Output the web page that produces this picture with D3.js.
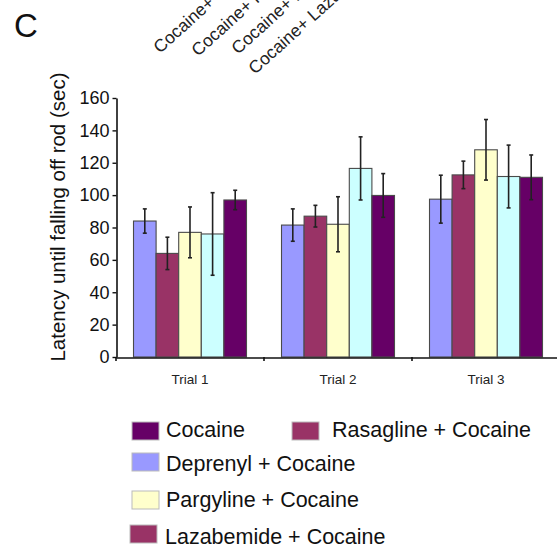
<!DOCTYPE html>
<html>
<head>
<meta charset="utf-8">
<script src="https://cdn.jsdelivr.net/npm/d3@7"></script>
<style>
  html, body { margin: 0; padding: 0; background: #fff; }
  svg { display: block; font-family: "Liberation Sans", Arial, sans-serif; }
</style>
</head>
<body>
<svg id="chart" width="557" height="550"></svg>
<script>
// Rotarod latency per trial, mean and SEM for each treatment group
const trials = ["Trial 1", "Trial 2", "Trial 3"];
const seriesNames = ["Deprenyl + Cocaine", "Rasagline + Cocaine", "Pargyline + Cocaine", "Lazabemide + Cocaine", "Cocaine"];
const seriesColors = ["#9999ff", "#993366", "#ffffcc", "#ccffff", "#660066"];

const deprenyl   = [84, 81.5, 97.5];
const rasagline  = [64, 87, 112.5];
const pargyline  = [77, 82, 128];
const lazabemide = [76, 116.5, 111.5];
const cocaine    = [97, 99.8, 111];

const deprenylErr   = [7.5, 10, 14.8];
const rasaglineErr  = [10, 6.7, 8.5];
const pargylineErr  = [15.7, 17, 18.7];
const lazabemideErr = [25.5, 19.5, 19.4];
const cocaineErr    = [6, 13.5, 13.8];

const yTicks = [0, 20, 40, 60, 80, 100, 120, 140, 160];

const topLabels = ["Cocaine+ Deprenyl", "Cocaine+ Rasagline", "Cocaine+ Pargyline", "Cocaine+ Lazabemide"];

const legendNames  = ["Cocaine", "Rasagline + Cocaine", "Deprenyl + Cocaine", "Pargyline + Cocaine", "Lazabemide + Cocaine"];
const legendColors = ["#660066", "#993366", "#9999ff", "#ffffcc", "#993366"];

const values = [deprenyl, rasagline, pargyline, lazabemide, cocaine];
const errors = [deprenylErr, rasaglineErr, pargylineErr, lazabemideErr, cocaineErr];

const rows = [];
trials.forEach((t, ti) => {
  seriesNames.forEach((s, si) => {
    rows.push({ trial: t, series: s, color: seriesColors[si], value: values[si][ti], err: errors[si][ti] });
  });
});

const svg = d3.select("#chart");

const x0 = d3.scaleBand().domain(trials).range([116, 560]).paddingInner(0).paddingOuter(0);
const x1 = d3.scaleBand().domain(seriesNames).range([17.5, x0.bandwidth() - 17.5]).padding(0);
const y = d3.scaleLinear().domain([0, 160]).range([357, 98]);

// panel letter
svg.append("text").attr("x", 14).attr("y", 37).attr("font-size", 33).attr("fill", "#111").text("C");

// rotated column captions along the top (they run past the top edge)
const capPos = [[160, 54], [198, 57], [238, 55], [255, 75]];
svg.append("g").selectAll("text").data(topLabels).join("text")
  .attr("transform", (d, i) => `translate(${capPos[i][0]},${capPos[i][1]}) rotate(-42)`)
  .attr("font-size", 17.5).attr("fill", "#222")
  .text(d => d);

// bars
svg.append("g").selectAll("rect").data(rows).join("rect")
  .attr("x", d => x0(d.trial) + x1(d.series))
  .attr("y", d => y(d.value))
  .attr("width", x1.bandwidth())
  .attr("height", d => y(0) - y(d.value))
  .attr("fill", d => d.color)
  .attr("stroke", "#4a4a4a")
  .attr("stroke-width", 1.1);

// error bars
const eb = svg.append("g").attr("stroke", "#222").attr("stroke-width", 1.6);
rows.forEach(d => {
  const cx = x0(d.trial) + x1(d.series) + x1.bandwidth() / 2;
  eb.append("line").attr("x1", cx).attr("x2", cx).attr("y1", y(d.value + d.err)).attr("y2", y(d.value - d.err));
  eb.append("line").attr("x1", cx - 2).attr("x2", cx + 2).attr("y1", y(d.value + d.err)).attr("y2", y(d.value + d.err));
  eb.append("line").attr("x1", cx - 2).attr("x2", cx + 2).attr("y1", y(d.value - d.err)).attr("y2", y(d.value - d.err));
});

// y axis
const yAxis = svg.append("g").attr("transform", "translate(116.5,0)")
  .call(d3.axisLeft(y).tickValues(yTicks).tickSize(4).tickSizeOuter(0).tickPadding(3));
yAxis.select(".domain").attr("stroke", "#111").attr("stroke-width", 1.6);
yAxis.selectAll(".tick line").attr("stroke", "#111").attr("stroke-width", 1.4);
yAxis.selectAll(".tick text").attr("font-size", 18).attr("fill", "#111").attr("font-family", "Liberation Sans, Arial, sans-serif");

// x axis with boundary ticks between trials
const xAxis = svg.append("g").attr("transform", "translate(0,357.5)")
  .call(d3.axisBottom(x0).tickSize(0).tickPadding(17));
xAxis.select(".domain").attr("stroke", "#111").attr("stroke-width", 1.6);
xAxis.selectAll(".tick text").attr("font-size", 13.5).attr("fill", "#222").attr("font-family", "Liberation Sans, Arial, sans-serif");
svg.append("g").selectAll("line").data(trials).join("line")
  .attr("x1", d => x0(d)).attr("x2", d => x0(d))
  .attr("y1", 357).attr("y2", 361)
  .attr("stroke", "#111").attr("stroke-width", 1.6);

// y axis title
svg.append("text")
  .attr("transform", "translate(65,217) rotate(-90)")
  .attr("text-anchor", "middle")
  .attr("font-size", 20.5).attr("fill", "#111")
  .text("Latency until falling off rod (sec)");

// legend
const legendPos = [[132, 422, 166, 437], [292, 422, 332, 437], [132, 453, 166, 471], [132, 491, 166, 507], [130, 525, 165, 544]];
const lg = svg.append("g");
legendNames.forEach((name, i) => {
  const p = legendPos[i];
  lg.append("rect").attr("x", p[0]).attr("y", p[1]).attr("width", 27).attr("height", 18)
    .attr("fill", legendColors[i]).attr("stroke", "#bbb").attr("stroke-width", 1);
  lg.append("text").attr("x", p[2]).attr("y", p[3]).attr("font-size", 21.5).attr("fill", "#111").text(name);
});
</script>
</body>
</html>
